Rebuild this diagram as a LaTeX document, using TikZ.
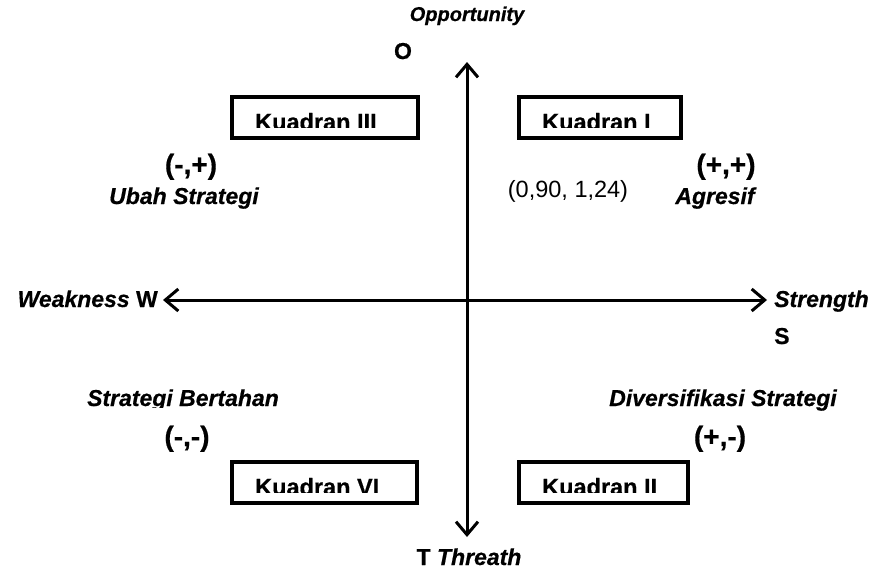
\documentclass[tikz,border=0pt]{standalone}
\usepackage{fontspec}
\setmainfont{Liberation Sans}[BoldFeatures={FakeBold=0.6},BoldItalicFeatures={FakeBold=0.6}]
\usetikzlibrary{arrows.meta}
\begin{document}
\begin{tikzpicture}[x=1pt,y=-1pt,
  lbl/.style={inner sep=0pt, anchor=base, font=\fontsize{23}{27}\selectfont\bfseries\itshape},
  sgn/.style={inner sep=0pt, anchor=base, font=\fontsize{28}{32}\selectfont\bfseries},
  ltr/.style={inner sep=0pt, anchor=base, font=\fontsize{23}{27}\selectfont\bfseries},
  qbox/.style={draw, line width=4pt},
  qtext/.style={inner sep=0pt, anchor=base west, font=\fontsize{23.5}{27}\selectfont\bfseries},
  axisline/.style={line width=3pt, {Straight Barb[length=13pt,width=22pt]}-{Straight Barb[length=13pt,width=22pt]}}]
\useasboundingbox (0,0) rectangle (876,571);

% axes
\coordinate (wtip) at (163,300);
\coordinate (stip) at (767,300);
\coordinate (otip) at (467,62);
\coordinate (ttip) at (467,537);
\draw[axisline] (wtip) -- (stip);
\draw[axisline] (ttip) -- (otip);

% quadrant boxes
\draw[qbox] (232,97) rectangle (418,138);
\draw[qbox] (519,97) rectangle (681,138);
\draw[qbox] (232,462) rectangle (417,503);
\draw[qbox] (519,462) rectangle (688,503);
\begin{scope}
  \clip (234,99) rectangle (416,127);
  \node[qtext] (k3) at (255,130) {Kuadran III};
\end{scope}
\begin{scope}
  \clip (521,99) rectangle (679,127);
  \node[qtext] (k1) at (542,130) {Kuadran I};
\end{scope}
\begin{scope}
  \clip (234,464) rectangle (415,492);
  \node[qtext] (k6) at (255,495) {Kuadran VI};
\end{scope}
\begin{scope}
  \clip (521,464) rectangle (686,492);
  \node[qtext] (k2) at (542,495) {Kuadran II};
\end{scope}

% axis labels
\node[lbl, font=\fontsize{20}{24}\selectfont\bfseries\itshape] (opp) at (467,21) {Opportunity};
\node[ltr] (oo) at (403,59) {O};
\node[inner sep=0pt, anchor=base east, font=\fontsize{23}{27}\selectfont\bfseries] (weak) at (158,307) {\textit{Weakness} W};
\node[inner sep=0pt, anchor=base west, font=\fontsize{23}{27}\selectfont\bfseries\itshape] (str) at (774,307) {Strength};
\node[inner sep=0pt, anchor=base west, font=\fontsize{23}{27}\selectfont\bfseries] (ss) at (774,344) {S};
\node[ltr] (thr) at (469,565) {T \textit{Threath}};

% quadrant labels
\node[sgn] (mp) at (191,174) {(-,+)};
\node[lbl] (ubah) at (184,204) {Ubah Strategi};
\node[inner sep=0pt, anchor=base, font=\fontsize{23.5}{27}\selectfont] (pt) at (568,197) {(0,90, 1,24)};
\node[sgn] (pp) at (726,174) {(+,+)};
\node[lbl] (agr) at (715,204) {Agresif};
\begin{scope}
  \clip (60,370) rectangle (320,407.5);
  \node[lbl] (bert) at (183,406) {Strategi Bertahan};
\end{scope}
\node[lbl] (div) at (723,406) {Diversifikasi Strategi};
\node[sgn] (mm) at (187,446) {(-,-)};
\node[sgn] (pm) at (720,446) {(+,-)};
\end{tikzpicture}
\end{document}
